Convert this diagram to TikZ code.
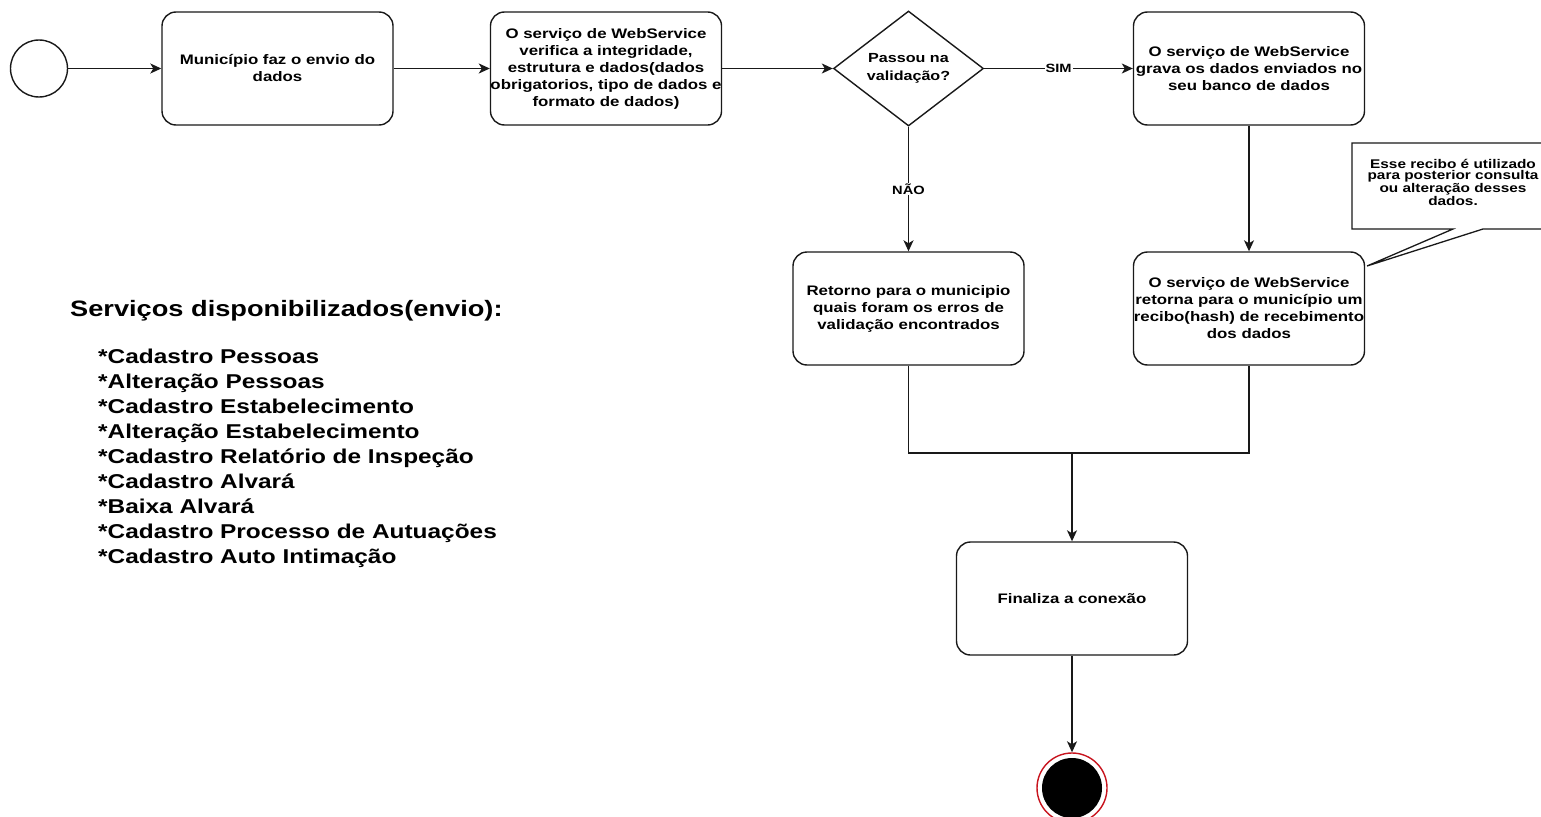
\documentclass[tikz,border=0pt]{standalone}
\usepackage{fontspec}
\setmainfont{Liberation Sans}[FakeStretch=1.22]
\usetikzlibrary{shapes.geometric,arrows.meta}
\definecolor{linec}{RGB}{25,25,25}
\definecolor{endred}{RGB}{200,20,30}
\begin{document}
\begin{tikzpicture}[x=1pt,y=-1pt,
  conn/.style={draw=linec, line width=1.5pt},
  arr/.style={conn, -{Stealth[length=11pt,width=10pt,inset=3pt]}},
  stepbox/.style={draw=linec, line width=1.4pt, rounded corners=14pt, minimum width=231pt, minimum height=113pt, inner sep=0pt, align=center, font=\fontsize{13.8}{17}\selectfont\bfseries},
  decision/.style={diamond, draw=linec, line width=1.4pt, minimum width=150pt, minimum height=115pt, inner sep=0pt, align=center, font=\fontsize{13.2}{18}\selectfont\bfseries},
  lbl/.style={fill=white, inner sep=1pt, font=\fontsize{12}{14}\selectfont\bfseries},
  startc/.style={circle, draw=linec, line width=1.4pt, minimum size=57pt, inner sep=0pt},
  notetext/.style={align=center, inner sep=0pt, font=\fontsize{12.6}{11.4}\selectfont\bfseries}
]
\useasboundingbox (0,0) rectangle (1541,816);
\fill[white] (0,0) rectangle (1541,816);

\node[startc] (start) at (39,68.5) {};
\node[stepbox] (b1) at (277.5,68.5) {Município faz o envio do\\dados};
\node[stepbox] (b2) at (606,68.5) {O serviço de WebService\\verifica a integridade,\\estrutura e dados(dados\\obrigatorios, tipo de dados e\\formato de dados)};
\node[decision] (dia) at (908.5,68.5) {Passou na\\validação?};
\node[stepbox] (b3) at (1249,68.5) {O serviço de WebService\\grava os dados enviados no\\seu banco de dados};
\node[stepbox] (b4) at (908.5,308.5) {Retorno para o municipio\\quais foram os erros de\\validação encontrados};
\node[stepbox] (b5) at (1249,308.5) {O serviço de WebService\\retorna para o município um\\recibo(hash) de recebimento\\dos dados};
\node[stepbox] (fin) at (1072,598.5) {Finaliza a conexão};
\coordinate (m) at (1072,453);

% end state
\node[circle, draw=endred, line width=1.4pt, fill=white, minimum size=70pt, inner sep=0pt] (end) at (1072,788) {};
\node[circle, fill=black, minimum size=60pt, inner sep=0pt] (endcore) at (end.center) {};

% connectors
\draw[arr] (start) -- (b1);
\draw[arr] (b1) -- (b2);
\draw[arr] (b2) -- (dia);
\draw[arr] (dia) -- node[lbl]{SIM} (b3);
\draw[arr] (dia) -- node[lbl]{NÃO} (b4);
\draw[arr] (b3) -- (b5);
\draw[conn] (b4.south) |- (m) -| (b5.south);
\draw[arr] (m) -- (fin.north);
\draw[arr] (fin) -- (end.north);

% callout
\coordinate (tip) at (1367,266);
\begin{scope}
\clip (0,0) rectangle (1541,816);
\draw[conn, line width=1.3pt, fill=white] (1352,143) -- (1556,143) -- (1556,229) -- (1483,229) -- (tip) -- (1453,229) -- (1352,229) -- cycle;
\node[notetext] (note) at (1453,182) {Esse recibo é utilizado\\para posterior consulta\\ou alteração desses\\dados.};
\end{scope}

% services list
\node[anchor=base west, inner sep=0pt, font=\fontsize{22.3}{26}\selectfont\bfseries] (hdr) at (70,316) {Serviços disponibilizados(envio):};
\node[anchor=north west, inner sep=0pt, align=left, font=\fontsize{20}{25}\selectfont\bfseries] (lst) at (98,348.5) {*Cadastro Pessoas\\*Alteração Pessoas\\*Cadastro Estabelecimento\\*Alteração Estabelecimento\\*Cadastro Relatório de Inspeção\\*Cadastro Alvará\\*Baixa Alvará\\*Cadastro Processo de Autuações\\*Cadastro Auto Intimação};
\end{tikzpicture}
\end{document}
